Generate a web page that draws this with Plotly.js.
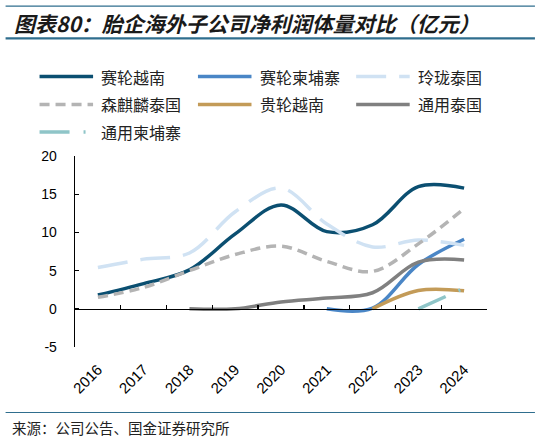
<!DOCTYPE html>
<html>
<head>
<meta charset="utf-8">
<script src="https://cdn.plot.ly/plotly-3.0.1.min.js"></script>
<style>
  html, body { margin: 0; padding: 0; background: #fff; }
  #chart { width: 541px; height: 440px; }
</style>
</head>
<body>
<div id="chart"></div>
<script>
// ── Data (亿元) ──
const YEARS = [2016, 2017, 2018, 2019, 2020, 2021, 2022, 2023, 2024];
const SAILUN_VN = [1.8, 3.3, 5.1, 9.8, 13.6, 10.1, 11.0, 16.0, 15.8];
const SAILUN_KH = [null, null, null, null, null, 0, 0.1, 5.8, 9.1];
const LINGLONG_TH = [5.4, 6.5, 7.3, 12.7, 15.8, 11.1, 8.1, 9.0, 8.3];
const SENTURY_TH = [1.5, 2.8, 5.0, 7.1, 8.2, 6.2, 4.9, 8.5, 13.1];
const GUILUN_VN = [null, null, null, null, null, null, 0, 2.4, 2.35];
const GENERAL_TH = [null, null, 0, 0, 0.9, 1.4, 2.1, 6.1, 6.4];
const GENERAL_KH = [null, null, null, null, null, null, null, 0, 2.7];

const SERIES_NAMES = ["赛轮越南", "赛轮柬埔寨", "玲珑泰国", "森麒麟泰国", "贵轮越南", "通用泰国", "通用柬埔寨"];
const SERIES_VALUES = [SAILUN_VN, SAILUN_KH, LINGLONG_TH, SENTURY_TH, GUILUN_VN, GENERAL_TH, GENERAL_KH];

const Y_TICKS = [-5, 0, 5, 10, 15, 20];
const Y_TICK_TEXT = ["-5", "0", "5", "10", "15", "20"];

const TITLE = "图表80：胎企海外子公司净利润体量对比（亿元）";
const SOURCE = "来源：公司公告、国金证券研究所";

// ── Styles ──
const COLORS = ["#0B4F71", "#4A86C6", "#D0E2F3", "#B4B4B4", "#C39B58", "#808080", "#8FC5C8"];
const DASHES = ["solid", "solid", "30px,13px", "10px,6px", "solid", "solid", "30px,14px,2px,14px"];
const RULE = "#2F6E8E";
const NUM_FONT = "Liberation Sans, Arial, sans-serif";
const CJK_FONT = "Noto Sans CJK SC, sans-serif";

// ── Geometry helpers (pixel -> paper) ──
const W = 541, H = 440;
const M = { l: 74.5, r: 54, t: 155.7, b: 92.7 };
const px2x = (px) => (px - M.l) / (W - M.l - M.r);
const px2y = (py) => (H - M.b - py) / (H - M.t - M.b);

// ── Traces ──
const traces = SERIES_NAMES.map((name, i) => ({
  type: "scatter",
  mode: "lines",
  name: name,
  x: YEARS,
  y: SERIES_VALUES[i],
  line: { color: COLORS[i], width: 3.5, dash: DASHES[i], shape: "spline", smoothing: 1 },
  connectgaps: false,
  showlegend: false,
  hoverinfo: "skip",
}));
// carrier for the boundary-tick axis sitting on y = 0
traces.push({ type: "scatter", x: [], y: [], xaxis: "x2", showlegend: false, hoverinfo: "skip" });

// ── Hand-drawn legend (3 columns) ──
const LEG_COL_X = [39, 197.6, 356];
const LEG_ROW_Y = [76, 104, 131.7];
const shapes = [];
const annotations = [];
SERIES_NAMES.forEach((name, i) => {
  const lx = LEG_COL_X[i % 3];
  const ly = LEG_ROW_Y[Math.floor(i / 3)];
  shapes.push({
    type: "line", xref: "paper", yref: "paper",
    x0: px2x(lx), x1: px2x(lx + 53.6), y0: px2y(ly), y1: px2y(ly),
    line: { color: COLORS[i], width: 3.5, dash: DASHES[i] },
  });
  annotations.push({
    xref: "paper", yref: "paper", x: px2x(lx + 60), y: px2y(ly),
    xanchor: "left", yanchor: "middle", showarrow: false,
    text: name, font: { family: CJK_FONT, size: 16, color: "#222" },
  });
});

// title + source rules
shapes.push(
  { type: "line", xref: "paper", yref: "paper", x0: px2x(5), x1: px2x(535), y0: px2y(5.3), y1: px2y(5.3), line: { color: RULE, width: 1.2 } },
  { type: "line", xref: "paper", yref: "paper", x0: px2x(5), x1: px2x(535), y0: px2y(37.7), y1: px2y(37.7), line: { color: RULE, width: 2.2 } },
  { type: "line", xref: "paper", yref: "paper", x0: px2x(5), x1: px2x(535), y0: px2y(413), y1: px2y(413), line: { color: RULE, width: 1.2 } },
);
annotations.push(
  {
    xref: "paper", yref: "paper", x: px2x(11), y: px2y(22.7),
    xanchor: "left", yanchor: "middle", showarrow: false,
    text: "<b><i>" + TITLE + "</i></b>",
    font: { family: CJK_FONT, size: 21, color: "#1a1a1a" },
  },
  {
    xref: "paper", yref: "paper", x: px2x(9), y: px2y(428),
    xanchor: "left", yanchor: "middle", showarrow: false,
    text: SOURCE, font: { family: CJK_FONT, size: 14.5, color: "#222" },
  },
);

const layout = {
  width: W,
  height: H,
  margin: M,
  paper_bgcolor: "#fff",
  plot_bgcolor: "#fff",
  font: { family: NUM_FONT, size: 14, color: "#000" },
  showlegend: false,
  xaxis: {
    type: "linear",
    range: [2015.5, 2024.5],
    tickvals: YEARS,
    ticktext: YEARS.map(String),
    tickangle: -45,
    ticks: "",
    ticklabelstandoff: 10,
    showline: false,
    showgrid: false,
    zeroline: false,
    tickfont: { family: NUM_FONT, size: 15, color: "#000" },
    fixedrange: true,
  },
  xaxis2: {
    type: "linear",
    overlaying: "x",
    anchor: "free",
    position: (0 - Y_TICKS[0]) / (Y_TICKS[Y_TICKS.length - 1] - Y_TICKS[0]),
    range: [2015.5, 2024.5],
    tickvals: YEARS.map((y) => y + 0.5),
    showticklabels: false,
    ticks: "inside",
    ticklen: 4,
    tickwidth: 1.3,
    tickcolor: "#000",
    showline: true,
    linecolor: "#000",
    linewidth: 1.3,
    showgrid: false,
    zeroline: false,
    fixedrange: true,
  },
  yaxis: {
    range: [Y_TICKS[0], Y_TICKS[Y_TICKS.length - 1]],
    tickvals: Y_TICKS,
    ticktext: Y_TICK_TEXT,
    ticks: "inside",
    ticklen: 4,
    tickwidth: 1.3,
    tickcolor: "#000",
    ticklabelstandoff: 14,
    showline: true,
    linecolor: "#000",
    linewidth: 1.3,
    showgrid: false,
    zeroline: false,
    tickfont: { family: NUM_FONT, size: 14, color: "#000" },
    fixedrange: true,
  },
  shapes: shapes,
  annotations: annotations,
};

Plotly.newPlot("chart", traces, layout, { staticPlot: true, displayModeBar: false });
</script>
</body>
</html>
